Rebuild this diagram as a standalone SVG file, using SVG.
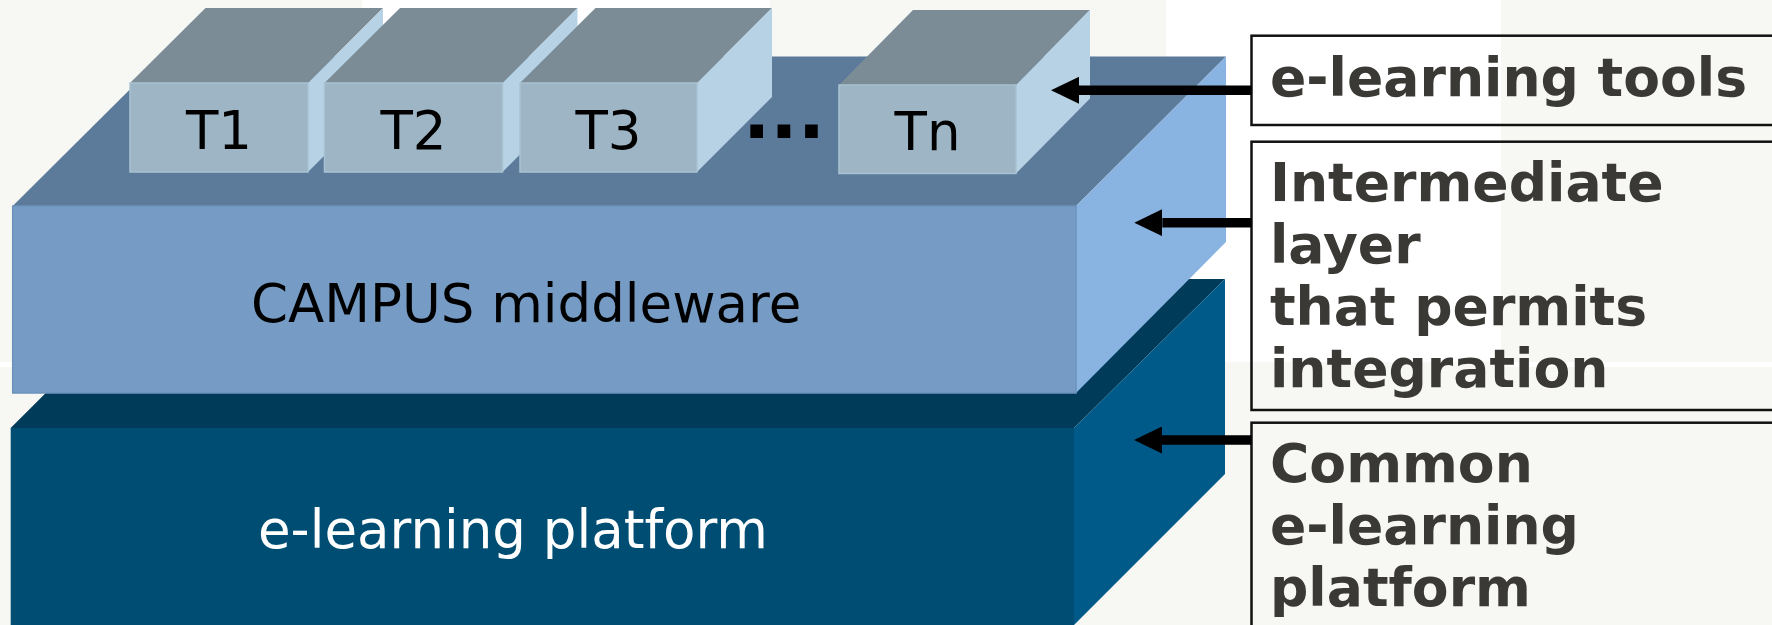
<svg xmlns="http://www.w3.org/2000/svg" width="1772" height="625" viewBox="0 0 1772 625">
<style>
.plat-front{fill:#004d73}
.plat-top{fill:#003b5a}
.plat-side{fill:#005a89}
.mw-front{fill:#769cc5;stroke:#6d93bd;stroke-width:1.5}
.mw-top{fill:#5c7b9b}
.mw-side{fill:#89b4e2}
.tool-front{fill:#9db5c5;stroke:#a9c2d2;stroke-width:1.5}
.tool-top{fill:#7b8c97}
.tool-side{fill:#b6d2e4}
.layer-label{font-family:"DejaVu Sans",sans-serif;font-size:53px}
.tool-label{font-family:"DejaVu Sans",sans-serif;font-size:53px;fill:#000;text-anchor:middle}
.box{fill:none;stroke:#111;stroke-width:2.5}
.box-text{font-family:"DejaVu Sans",sans-serif;font-weight:bold;font-size:53.6px;fill:#3a3935}
.arrow{stroke:#000;stroke-width:9.5;fill:none;marker-end:url(#head)}
</style>
<defs>
<marker id="head" viewBox="0 0 28 27" markerWidth="28" markerHeight="27" markerUnits="userSpaceOnUse" refX="0" refY="13.5" orient="auto">
<path d="M0,0 L28,13.5 L0,27 z" fill="#000"/>
</marker>
</defs>
<g id="background">
<rect x="0" y="0" width="1772" height="625" fill="#f7f7f3"/>
<rect x="1166" y="0" width="335" height="362" fill="#ffffff"/>
<rect x="362" y="0" width="408" height="60" fill="#ffffff"/>
<rect x="1501" y="362" width="271" height="5" fill="#ffffff"/>
<rect x="0" y="362" width="12" height="5" fill="#ffffff"/>
</g>
<g id="platform">
<polygon class="plat-top" points="10.7,428 160,279 1225,279 1074,428"/>
<polygon class="plat-side" points="1074,428 1225,279 1225,474 1074,625"/>
<rect class="plat-front" x="10.7" y="428" width="1063.3" height="200"/>
<text class="layer-label" x="258" y="548" fill="#ffffff">e-learning platform</text>
</g>
<g id="middleware">
<polygon class="mw-top" points="12.7,206 163,56.5 1226,56.5 1076,206"/>
<polygon class="mw-side" points="1076,206 1226,56.5 1226,242 1076,393"/>
<rect class="mw-front" x="12.7" y="206" width="1063.3" height="187"/>
<text class="layer-label" x="251" y="322" fill="#000000">CAMPUS middleware</text>
</g>
<g id="tool-T1">
<polygon class="tool-top" points="130,83 205.5,8 383,8 308,83"/>
<polygon class="tool-side" points="308,83 383,8 383,97 308,172"/>
<rect class="tool-front" x="130" y="83" width="178" height="89"/>
<text class="tool-label" x="219" y="149">T1</text>
</g>
<g id="tool-T2">
<polygon class="tool-top" points="324.5,83 400,8 577.5,8 502.5,83"/>
<polygon class="tool-side" points="502.5,83 577.5,8 577.5,97 502.5,172"/>
<rect class="tool-front" x="324.5" y="83" width="178" height="89"/>
<text class="tool-label" x="413.5" y="149">T2</text>
</g>
<g id="tool-T3">
<polygon class="tool-top" points="520,83 595.5,8 772,8 697,83"/>
<polygon class="tool-side" points="697,83 772,8 772,97 697,172"/>
<rect class="tool-front" x="520" y="83" width="177" height="89"/>
<text class="tool-label" x="608.5" y="149">T3</text>
</g>
<g id="ellipsis">
<text x="743" y="137.7" font-family="DejaVu Sans, sans-serif" font-weight="bold" font-size="72" fill="#000">...</text>
</g>
<g id="tool-Tn">
<polygon class="tool-top" points="839,85 913,10 1090,10 1016,85"/>
<polygon class="tool-side" points="1016,85 1090,10 1090,98.5 1016,173.5"/>
<rect class="tool-front" x="839" y="85" width="177" height="88.5"/>
<text class="tool-label" x="927.5" y="150">Tn</text>
</g>
<g id="label-tools">
<rect class="box" x="1251.5" y="35.7" width="600" height="89.3"/>
<text class="box-text" x="1270" y="96">e-learning tools</text>
</g>
<g id="label-intermediate">
<rect class="box" x="1251.5" y="141.7" width="600" height="268.3"/>
<text class="box-text" x="1270" y="200.5">Intermediate</text>
<text class="box-text" x="1270" y="262.5">layer</text>
<text class="box-text" x="1270" y="324.5">that permits</text>
<text class="box-text" x="1270" y="386.5">integration</text>
</g>
<g id="label-platform">
<rect class="box" x="1251.5" y="422.7" width="600" height="300"/>
<text class="box-text" x="1270" y="482">Common</text>
<text class="box-text" x="1270" y="544">e-learning</text>
<text class="box-text" x="1270" y="606">platform</text>
</g>
<g id="connectors">
<line class="arrow" x1="1251.5" y1="90.3" x2="1079" y2="90.3"/>
<line class="arrow" x1="1251.5" y1="222.7" x2="1162.3" y2="222.7"/>
<line class="arrow" x1="1251.5" y1="440" x2="1162" y2="440"/>
</g>
</svg>
